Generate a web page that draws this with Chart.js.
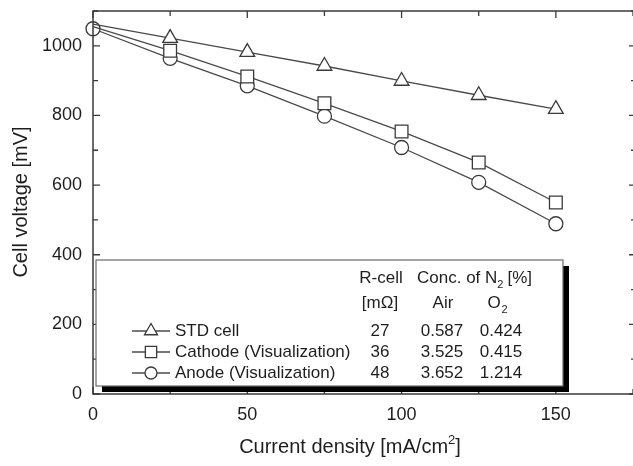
<!DOCTYPE html>
<html>
<head>
<meta charset="utf-8">
<script src="https://cdn.jsdelivr.net/npm/chart.js@4/dist/chart.umd.min.js"></script>
<style>
  html, body { margin: 0; padding: 0; background: #fff; }
  #courbes { display: block; }
</style>
</head>
<body>
<canvas id="courbes" width="633" height="466"></canvas>
<script>
// Données
const densitesCourant = [0, 25, 50, 75, 100, 125, 150];
const tensionsStd = [1062, 1022, 982, 942, 899, 858, 818];
const tensionsCathode = [1055, 986, 912, 835, 754, 665, 550];
const tensionsAnode = [1049, 964, 885, 798, 708, 608, 489];

const nomsSeries = ['STD cell', 'Cathode (Visualization)', 'Anode (Visualization)'];
const symbolesSeries = ['triangle', 'rect', 'circle'];
const resistancesCellule = ['27', '36', '48'];
const concentrationsAir = ['0.587', '3.525', '3.652'];
const concentrationsO2 = ['0.424', '0.415', '1.214'];

const PALETTE = {
  BLANC: '#fff',
  NOIR: '#000',
  TEXTE: '#1e1e1e',
  TRAIT: '#4a4a4a',
  CADRE: '#3a3a3a',
};

const POLICE = '"Liberation Sans", Arial, sans-serif';

const rayons = { triangle: 8.5, rect: 9, circle: 7 };

const versPoints = (valeurs) => valeurs.map((v, i) => ({ x: densitesCourant[i], y: v }));

const serie = (indice, valeurs, cacherOrigine) => ({
  label: nomsSeries[indice],
  data: versPoints(valeurs),
  borderColor: PALETTE.TRAIT,
  borderWidth: 1.3,
  backgroundColor: PALETTE.BLANC,
  pointStyle: symbolesSeries[indice],
  pointRadius: valeurs.map((v, i) => (i === 0 && cacherOrigine ? 0 : rayons[symbolesSeries[indice]])),
  pointBorderColor: PALETTE.CADRE,
  pointBorderWidth: 1.3,
  pointBackgroundColor: PALETTE.BLANC,
  tension: 0,
  clip: false,
});

// cadre (le bord droit sort de l'image) avec graduations vers l'intérieur
const cadre = {
  id: 'cadre',
  afterDatasetsDraw(chart) {
    const { ctx, chartArea: zone, scales } = chart;
    const droite = zone.right + 3;
    ctx.save();
    ctx.strokeStyle = PALETTE.CADRE;
    ctx.lineWidth = 1.5;
    ctx.beginPath();
    ctx.moveTo(droite, zone.top);
    ctx.lineTo(zone.left, zone.top);
    ctx.lineTo(zone.left, zone.bottom);
    ctx.lineTo(droite, zone.bottom);
    ctx.stroke();
    ctx.lineWidth = 1.3;
    ctx.beginPath();
    scales.x.ticks.forEach((t) => {
      const px = scales.x.getPixelForValue(t.value);
      const long = t.value % 50 === 0 ? 7 : 5;
      ctx.moveTo(px, zone.bottom); ctx.lineTo(px, zone.bottom - long);
      ctx.moveTo(px, zone.top); ctx.lineTo(px, zone.top + long);
    });
    scales.y.ticks.forEach((t) => {
      const py = scales.y.getPixelForValue(t.value);
      const long = t.value % 200 === 0 ? 7 : 5;
      ctx.moveTo(zone.left, py); ctx.lineTo(zone.left + long, py);
      ctx.moveTo(droite, py); ctx.lineTo(droite - long, py);
    });
    ctx.stroke();
    ctx.restore();
  },
};

const legendeTableau = {
  id: 'legendeTableau',
  afterDraw(chart) {
    const { ctx, chartArea: zone } = chart;
    const gauche = zone.left + 3;
    const haut = 260;
    const largeur = 467;
    const hauteur = 126;
    ctx.save();
    ctx.fillStyle = PALETTE.NOIR;
    ctx.fillRect(gauche + 6, haut + 6, largeur, hauteur);
    ctx.fillStyle = PALETTE.BLANC;
    ctx.fillRect(gauche, haut, largeur, hauteur);
    ctx.strokeStyle = '#6a6a6a';
    ctx.lineWidth = 1.2;
    ctx.strokeRect(gauche, haut, largeur, hauteur);

    ctx.fillStyle = PALETTE.TEXTE;
    ctx.textBaseline = 'middle';
    const taille = 17;
    const petite = Math.round(taille * 0.62);
    ctx.font = `${taille}px ${POLICE}`;
    ctx.textAlign = 'center';
    ctx.fillText('R-cell', gauche + 285, haut + 18);
    ctx.fillText('[mΩ]', gauche + 284, haut + 43);
    ctx.fillText('Air', gauche + 347, haut + 43);

    // "O2" avec indice
    ctx.textAlign = 'left';
    const lO = ctx.measureText('O').width;
    ctx.fillText('O', gauche + 398 - lO / 2, haut + 43);
    ctx.font = `${petite}px ${POLICE}`;
    ctx.fillText('2', gauche + 398 + lO / 2 + 1, haut + 43 + taille * 0.4);

    // "Conc. of N2 [%]"
    ctx.font = `${taille}px ${POLICE}`;
    const partie1 = 'Conc. of N';
    let x = gauche + 321;
    ctx.fillText(partie1, x, haut + 18);
    x += ctx.measureText(partie1).width;
    ctx.font = `${petite}px ${POLICE}`;
    ctx.fillText('2', x, haut + 18 + taille * 0.4);
    x += ctx.measureText('2').width + 4;
    ctx.font = `${taille}px ${POLICE}`;
    ctx.fillText('[%]', x, haut + 18);

    nomsSeries.forEach((nom, i) => {
      const y = haut + 71 + i * 21;
      ctx.strokeStyle = PALETTE.TRAIT;
      ctx.lineWidth = 1.3;
      ctx.beginPath();
      ctx.moveTo(gauche + 36, y);
      ctx.lineTo(gauche + 74, y);
      ctx.stroke();
      ctx.fillStyle = PALETTE.BLANC;
      ctx.strokeStyle = PALETTE.CADRE;
      Chart.helpers.drawPoint(ctx, {
        pointStyle: symbolesSeries[i],
        radius: rayons[symbolesSeries[i]] - 1,
        borderWidth: 1.3,
        rotation: 0,
      }, gauche + 55, y);
      ctx.fillStyle = PALETTE.TEXTE;
      ctx.font = `${taille}px ${POLICE}`;
      ctx.textAlign = 'left';
      ctx.fillText(nom, gauche + 79, y);
      ctx.textAlign = 'center';
      ctx.fillText(resistancesCellule[i], gauche + 284, y);
      ctx.fillText(concentrationsAir[i], gauche + 346, y);
      ctx.fillText(concentrationsO2[i], gauche + 405, y);
    });
    ctx.restore();
  },
};

const titresAxes = {
  id: 'titresAxes',
  afterDraw(chart) {
    const { ctx } = chart;
    ctx.save();
    ctx.fillStyle = PALETTE.TEXTE;
    ctx.font = `20px ${POLICE}`;
    ctx.textBaseline = 'middle';
    // titre horizontal avec exposant
    const base = 'Current density [mA/cm';
    const lBase = ctx.measureText(base).width;
    ctx.font = `13px ${POLICE}`;
    const lExp = ctx.measureText('2').width;
    ctx.font = `20px ${POLICE}`;
    const lFin = ctx.measureText(']').width;
    let x = 350 - (lBase + lExp + lFin) / 2;
    ctx.textAlign = 'left';
    ctx.fillText(base, x, 447);
    x += lBase;
    ctx.font = `13px ${POLICE}`;
    ctx.fillText('2', x, 440);
    x += lExp;
    ctx.font = `20px ${POLICE}`;
    ctx.fillText(']', x, 447);

    ctx.translate(21, 202);
    ctx.rotate(-Math.PI / 2);
    ctx.textAlign = 'center';
    ctx.fillText('Cell voltage [mV]', 0, 0);
    ctx.restore();
  },
};

const policeGraduations = { family: POLICE, size: 18 };

// pas de marge automatique laissée par les étiquettes extrêmes
const sansMarges = (echelle) => {
  echelle.paddingTop = 0;
  echelle.paddingBottom = 0;
  echelle.paddingLeft = 0;
  echelle.paddingRight = 0;
};

new Chart(document.getElementById('courbes'), {
  type: 'line',
  plugins: [cadre, legendeTableau, titresAxes],
  data: {
    datasets: [
      serie(0, tensionsStd, true),
      serie(1, tensionsCathode, true),
      serie(2, tensionsAnode, false),
    ],
  },
  options: {
    responsive: false,
    animation: false,
    events: [],
    layout: { autoPadding: false, padding: { top: 11, right: 0, left: 0, bottom: 0 } },
    plugins: {
      legend: { display: false },
      tooltip: { enabled: false },
    },
    scales: {
      x: {
        type: 'linear',
        min: 0,
        max: 175,
        grid: { display: false, drawTicks: false },
        border: { display: false },
        ticks: {
          stepSize: 25,
          autoSkip: false,
          maxRotation: 0,
          padding: 10,
          color: PALETTE.TEXTE,
          font: policeGraduations,
          callback: (v) => (v % 50 === 0 ? v : ''),
        },
        afterFit: (echelle) => { echelle.height = 72; sansMarges(echelle); },
      },
      y: {
        min: 0,
        max: 1100,
        grid: { display: false, drawTicks: false },
        border: { display: false },
        ticks: {
          stepSize: 100,
          autoSkip: false,
          padding: 11,
          color: PALETTE.TEXTE,
          font: policeGraduations,
          callback: (v) => (v % 200 === 0 ? v : ''),
        },
        afterFit: (echelle) => { echelle.width = 93; sansMarges(echelle); },
      },
    },
  },
});
</script>
</body>
</html>
